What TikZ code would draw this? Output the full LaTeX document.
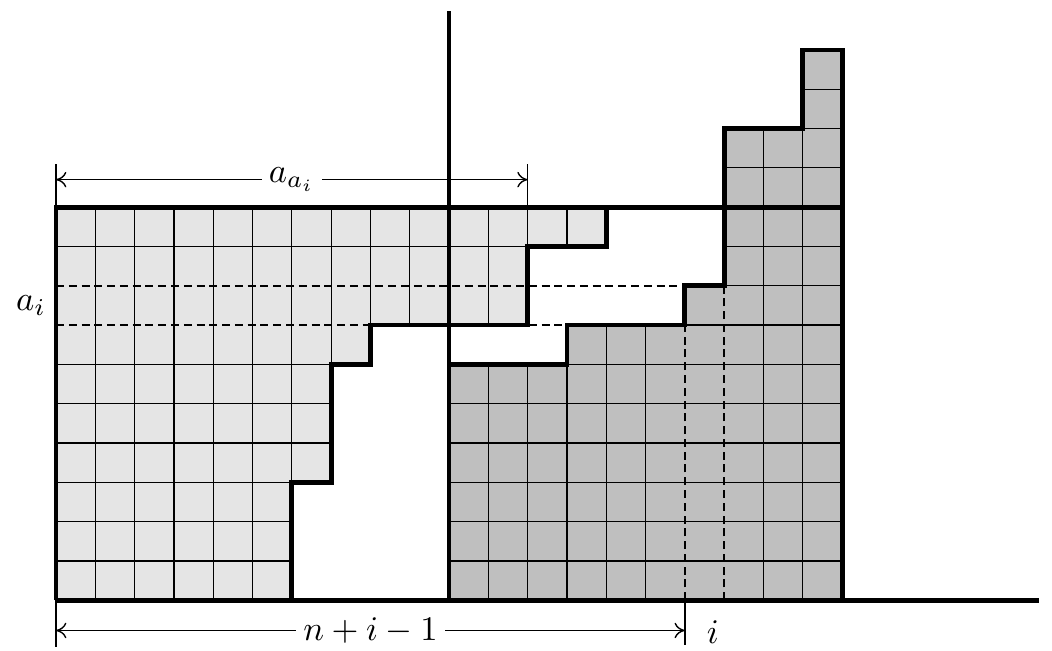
\documentclass[tikz,border=0pt]{standalone}
\usetikzlibrary{arrows.meta}
\begin{document}
\begin{tikzpicture}[x=0.4cm,y=0.4cm,
  thickline/.style={line width=1.4pt, line join=miter},
  gridline/.style={line width=0.35pt},
  dashline/.style={line width=0.65pt, dash pattern=on 2.3pt off 1.4pt},
  dimline/.style={line width=0.4pt},
  dimarrow/.style={dimline, {To[length=3pt,width=4.5pt]}-{To[length=3pt,width=4.5pt]}},
  lightfill/.style={fill=black!10},
  darkfill/.style={fill=black!25},
  lab/.style={fill=white, inner sep=2pt}]
\useasboundingbox (-1.425,-1.27) rectangle (25.34,15.27);
% light region
\fill[lightfill] (0,0) -- (0,10) -- (14,10) -- (14,9) -- (12,9) -- (12,7) -- (8,7) -- (8,6) -- (7,6) -- (7,3) -- (6,3) -- (6,0) -- cycle;
\begin{scope}
\clip (0,0) -- (0,10) -- (14,10) -- (14,9) -- (12,9) -- (12,7) -- (8,7) -- (8,6) -- (7,6) -- (7,3) -- (6,3) -- (6,0) -- cycle;
\foreach \x in {1,...,13} \draw[gridline] (\x,0) -- (\x,10);
\foreach \y in {1,2,3,4,5,6,9} \draw[gridline] (0,\y) -- (14,\y);
\end{scope}
% dark region
\fill[darkfill] (10,0) -- (10,6) -- (13,6) -- (13,7) -- (16,7) -- (16,8) -- (17,8) -- (17,12) -- (19,12) -- (19,14) -- (20,14) -- (20,0) -- cycle;
\begin{scope}
\clip (10,0) -- (10,6) -- (13,6) -- (13,7) -- (16,7) -- (16,8) -- (17,8) -- (17,12) -- (19,12) -- (19,14) -- (20,14) -- (20,0) -- cycle;
\foreach \x in {11,12,13,14,15,18,19} \draw[gridline] (\x,0) -- (\x,14);
\foreach \y in {1,...,13} \draw[gridline] (10,\y) -- (20,\y);
\end{scope}
% dashed lines
\draw[dashline] (0,8) -- (16,8);
\draw[dashline] (0,7) -- (13,7);
\draw[dashline] (16,0) -- (16,7);
\draw[dashline] (17,0) -- (17,8);
% outlines
\draw[thickline] (14,10) -- (14,9) -- (12,9) -- (12,7) -- (8,7) -- (8,6) -- (7,6) -- (7,3) -- (6,3) -- (6,0);
\draw[thickline] (10,6) -- (13,6) -- (13,7) -- (16,7) -- (16,8) -- (17,8) -- (17,12) -- (19,12) -- (19,14) -- (20,14) -- (20,0);
\draw[thickline] (0,0) -- (0,10) -- (20,10);
\draw[thickline] (0,0) -- (25,0);
\draw[thickline] (10,0) -- (10,15);
% dimension a_{a_i}
\coordinate (tl0) at (0,10);
\coordinate (tl1) at (0,11.1);
\coordinate (tr0) at (12,10);
\coordinate (tr1) at (12,11.1);
\coordinate (aL) at (0,10.7);
\coordinate (aR) at (12,10.7);
\draw[dimline] (tl0) -- (tl1);
\draw[dimline] (tr0) -- (tr1);
\draw[dimarrow] (aL) -- node[lab] (aa) {$a_{a_i}$} (aR);
% dimension n+i-1
\coordinate (bl0) at (0,0);
\coordinate (bl1) at (0,-1.2);
\coordinate (br0) at (16,0);
\coordinate (br1) at (16,-1.15);
\coordinate (bL) at (0,-0.77);
\coordinate (bR) at (16,-0.77);
\draw[dimline] (bl0) -- (bl1);
\draw[dimline] (br0) -- (br1);
\draw[dimarrow] (bL) -- node[lab] (nn) {$n+i-1$} (bR);
\node[right] (ii) at (16.25,-0.8) {$i$};
\node[left] (ai) at (0.05,7.5) {$a_i$};
\end{tikzpicture}
\end{document}
